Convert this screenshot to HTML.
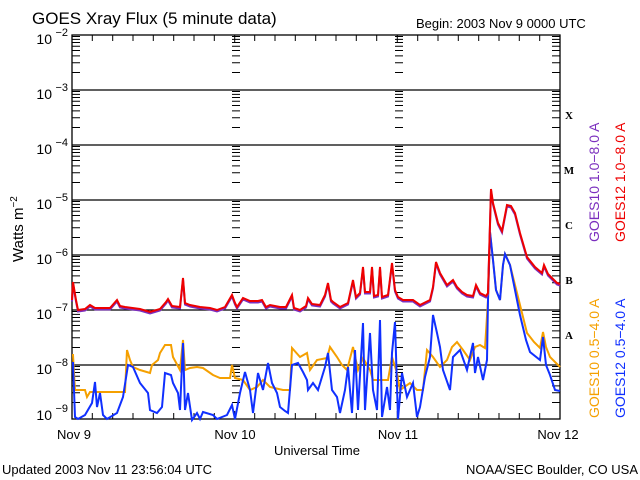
<!DOCTYPE html>
<html><head><meta charset="utf-8"><style>
html,body{margin:0;padding:0;background:#fff;}
svg{display:block;font-family:"Liberation Sans","DejaVu Sans",sans-serif;}
</style></head><body>
<svg width="640" height="480" viewBox="0 0 640 480" xmlns="http://www.w3.org/2000/svg">
<defs>
<path id="dec" d="M0 -16.56h8M0 -26.24h8M0 -33.11h8M0 -38.44h8M0 -42.8h8M0 -46.48h8M0 -49.67h8M0 -52.48h8" stroke="#000" stroke-width="1" fill="none"/>
<g id="col">
<use href="#dec" transform="translate(0,419)"/>
<use href="#dec" transform="translate(0,364)"/>
<use href="#dec" transform="translate(0,309)"/>
<use href="#dec" transform="translate(0,254)"/>
<use href="#dec" transform="translate(0,199)"/>
<use href="#dec" transform="translate(0,144)"/>
<use href="#dec" transform="translate(0,89)"/>
</g>
<polyline id="red" fill="none" stroke-width="2" points="72,300 73,282 76,300 78,310 85,309 90,305 95,308 110,308 117,300 120,306 125,307 140,309 150,312 160,309 166,302 168,299 172,306 180,307 183,278 185,303 190,305 200,307 210,308 217,310 225,307 232,295 235,303 237,307 243,298 250,301 258,301 262,300 266,307 270,305 280,307 286,307 292,295 294,308 300,310 306,306 308,298 312,304 320,305 325,295 328,283 331,300 333,302 340,307 348,303 353,280 356,297 360,293 363,267 365,292 370,292 372,267 374,296 378,295 380,267 382,297 388,295 392,263 395,290 398,297 403,300 413,300 420,305 430,300 433,287 436,262 440,273 447,285 453,280 457,287 462,292 467,295 473,296 476,285 480,293 486,296 488,293 491,189 493,203 498,223 502,231 507,205 511,206 515,213 520,233 527,257 535,267 542,273 544,265 548,274 557,283 560,284"/>
</defs>
<rect width="640" height="480" fill="#fff"/>
<text x="32" y="24" font-size="17" fill="#000">GOES Xray Flux (5 minute data)</text>
<text x="416" y="28" font-size="13" fill="#000">Begin:  2003 Nov 9 0000 UTC</text>
<g stroke="#000" stroke-width="1.3" fill="none">
<rect x="72" y="35" width="488" height="384"/>
<line x1="72" y1="90" x2="560" y2="90"/>
<line x1="72" y1="145" x2="560" y2="145"/>
<line x1="72" y1="200" x2="560" y2="200"/>
<line x1="72" y1="255" x2="560" y2="255"/>
<line x1="72" y1="310" x2="560" y2="310"/>
<line x1="72" y1="365" x2="560" y2="365"/>
</g>
<use href="#col" transform="translate(72,0)"/>
<use href="#col" transform="translate(552,0)"/>
<use href="#col" transform="translate(232,0)"/>
<use href="#col" transform="translate(395,0)"/>
<path stroke="#000" stroke-width="1" fill="none" d="M92.3 35v6M112.7 35v6M133 35v6M153.3 35v6M173.7 35v6M194 35v6M214.3 35v6M254.7 35v6M275 35v6M295.3 35v6M315.7 35v6M336 35v6M356.3 35v6M376.7 35v6M417.7 35v6M438 35v6M458.3 35v6M478.7 35v6M499 35v6M519.3 35v6M539.7 35v6
M92.3 419v-6M112.7 419v-6M133 419v-6M153.3 419v-6M173.7 419v-6M194 419v-6M214.3 419v-6M254.7 419v-6M275 419v-6M295.3 419v-6M315.7 419v-6M336 419v-6M356.3 419v-6M376.7 419v-6M417.7 419v-6M438 419v-6M458.3 419v-6M478.7 419v-6M499 419v-6M519.3 419v-6M539.7 419v-6
M234.7 35v8M397.3 35v8M234.7 419v-8M397.3 419v-8"/>
<g font-size="14" fill="#000" text-anchor="end">
<text x="52" y="44">10</text><text x="68" y="36" font-size="11">−2</text>
<text x="52" y="99">10</text><text x="68" y="91" font-size="11">−3</text>
<text x="52" y="154">10</text><text x="68" y="146" font-size="11">−4</text>
<text x="52" y="209">10</text><text x="68" y="201" font-size="11">−5</text>
<text x="52" y="264">10</text><text x="68" y="256" font-size="11">−6</text>
<text x="52" y="319">10</text><text x="68" y="311" font-size="11">−7</text>
<text x="52" y="374">10</text><text x="68" y="366" font-size="11">−8</text>
<text x="52" y="420">10</text><text x="68" y="412" font-size="11">−9</text>
</g>
<text transform="translate(23,262) rotate(-90)" font-size="15" fill="#000">Watts m<tspan font-size="10" dy="-6">−2</tspan></text>
<g font-family="Liberation Serif,serif" font-weight="bold" font-size="11" fill="#000" text-anchor="middle">
<text x="569" y="119">X</text><text x="569" y="174">M</text><text x="569" y="229">C</text><text x="569" y="284">B</text><text x="569" y="339">A</text>
</g>
<g font-size="13" fill="#000" text-anchor="middle">
<text x="74" y="439">Nov 9</text><text x="235" y="439">Nov 10</text><text x="398" y="439">Nov 11</text><text x="558" y="439">Nov 12</text>
<text x="317" y="455">Universal Time</text>
</g>
<text x="2" y="474" font-size="13" fill="#000">Updated 2003 Nov 11 23:56:04 UTC</text>
<text x="638" y="474" font-size="13" fill="#000" text-anchor="end">NOAA/SEC Boulder, CO USA</text>
<g font-size="14">
<text transform="translate(599,242) rotate(-90)" fill="#7b2fbe">GOES10 1.0−8.0 A</text>
<text transform="translate(625,242) rotate(-90)" fill="#e00">GOES12 1.0−8.0 A</text>
<text transform="translate(599,418) rotate(-90)" fill="#f5a000">GOES10 0.5−4.0 A</text>
<text transform="translate(625,418) rotate(-90)" fill="#1030ff">GOES12 0.5−4.0 A</text>
</g>
<polyline fill="none" stroke="#f5a000" stroke-width="2" points="72,355 73,355 75,390 85,390 87,397 90,392 117,392 125,392 127,350 130,360 133,367 140,370 150,373 152,365 158,360 160,353 165,345 171,345 173,357 180,370 183,340 185,370 190,368 197,367 203,368 213,375 220,378 230,378 232,365 235,378 243,380 250,390 257,387 263,380 270,387 283,390 290,390 292,348 300,357 307,353 310,370 317,360 327,358 330,347 337,357 342,365 347,370 353,347 358,370 363,358 370,370 373,380 385,380 388,380 392,357 397,373 400,390 410,383 417,390 423,390 427,350 433,357 440,367 447,360 452,347 457,342 463,350 470,360 475,347 480,345 485,348 488,300 490,232 493,260 496,290 500,300 503,265 505,254 510,265 515,285 520,305 527,333 534,342 540,348 543,332 546,347 550,357 555,362 560,367"/>
<polyline fill="none" stroke="#1030ff" stroke-width="2" points="72,363 73,363 75,417 78,419 85,415 92,403 95,382 97,407 100,393 103,415 107,419 117,413 123,397 128,365 133,367 140,383 148,393 150,410 157,413 162,407 165,373 171,375 173,383 178,393 180,410 183,343 185,410 188,393 192,420 197,413 200,419 203,412 213,415 217,419 227,415 232,405 235,419 240,393 245,372 250,390 253,413 258,373 263,390 268,363 272,383 277,393 280,407 285,411 288,413 292,365 298,363 303,372 307,380 308,390 313,383 318,390 325,367 328,353 332,390 337,397 340,413 345,390 348,367 352,413 355,350 358,410 363,323 365,410 370,333 373,390 377,410 380,320 382,417 387,387 390,410 392,353 395,322 398,419 402,373 407,397 413,383 417,417 420,407 425,377 430,357 433,315 437,333 440,347 443,370 450,390 453,357 460,350 467,370 473,343 475,373 478,357 483,380 487,360 488,300 490,232 493,260 496,290 500,300 503,265 505,254 510,265 515,290 520,315 526,340 530,352 540,360 543,337 546,365 550,375 555,390 560,391"/>
<use href="#red" stroke="#7b2fbe" transform="translate(0,1.5)"/>
<use href="#red" stroke="#e00"/>
</svg>
</body></html>
